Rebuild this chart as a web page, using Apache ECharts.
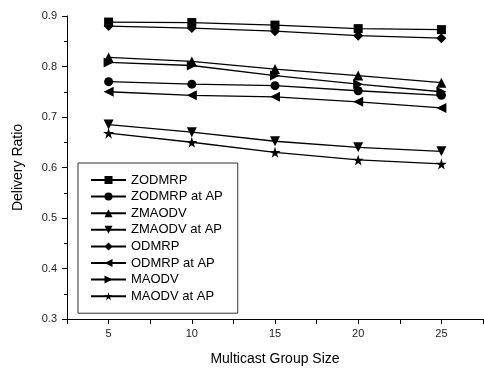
<!DOCTYPE html>
<html>
<head>
<meta charset="utf-8">
<script src="https://cdn.jsdelivr.net/npm/echarts@6/dist/echarts.min.js"></script>
<style>
  html, body { margin: 0; padding: 0; background: #fff; }
  #chart { width: 484px; height: 368px; }
</style>
</head>
<body>
<div id="chart"></div>
<script>
var groupSize = [5, 10, 15, 20, 25];
var seriesNames = ['ZODMRP', 'ZODMRP at AP', 'ZMAODV', 'ZMAODV at AP', 'ODMRP', 'ODMRP at AP', 'MAODV', 'MAODV at AP'];
var zodmrp     = [0.888, 0.887, 0.882, 0.875, 0.873];
var zodmrpAP   = [0.770, 0.765, 0.762, 0.752, 0.743];
var zmaodv     = [0.818, 0.810, 0.795, 0.782, 0.768];
var zmaodvAP   = [0.685, 0.670, 0.652, 0.640, 0.632];
var odmrp      = [0.880, 0.876, 0.870, 0.861, 0.856];
var odmrpAP    = [0.750, 0.743, 0.740, 0.730, 0.718];
var maodv      = [0.808, 0.802, 0.782, 0.765, 0.750];
var maodvAP    = [0.668, 0.650, 0.630, 0.615, 0.607];
var yTicks = [0.3, 0.4, 0.5, 0.6, 0.7, 0.8, 0.9];

var star = 'path://M50,0 L61,35 L98,35 L68,57 L79,91 L50,70 L21,91 L32,57 L2,35 L39,35 Z';
var values = [zodmrp, zodmrpAP, zmaodv, zmaodvAP, odmrp, odmrpAP, maodv, maodvAP];
var symbols = ['rect', 'circle', 'triangle', 'triangle', 'diamond', 'triangle', 'triangle', star];
var rotates = [0, 0, 0, 180, 0, 90, -90, 0];
var sizes = [9, 9, 10, 10, 10, 10, 10, 11];

var chart = echarts.init(document.getElementById('chart'));

var series = seriesNames.map(function (name, i) {
    return {
        name: name,
        type: 'line',
        data: groupSize.map(function (x, j) { return [x, values[i][j]]; }),
        symbol: symbols[i],
        symbolSize: sizes[i],
        symbolRotate: rotates[i],
        showAllSymbol: true,
        lineStyle: { color: '#000', width: 1.3 },
        itemStyle: { color: '#000' },
        emphasis: { disabled: true },
        animation: false
    };
});

var option = {
    backgroundColor: '#fff',
    grid: { left: 67, right: 1, top: 16, bottom: 49, outerBoundsMode: 'none', containLabel: false },
    legend: {
        orient: 'vertical',
        left: 78,
        top: 163,
        data: seriesNames,
        itemWidth: 35,
        itemHeight: 10,
        itemGap: 2.6,
        padding: [10, 15, 10, 12],
        borderColor: '#333',
        borderWidth: 1,
        textStyle: { fontFamily: 'Liberation Sans', fontSize: 13, color: '#000', lineHeight: 14 }
    },
    xAxis: {
        type: 'value',
        min: 2.5,
        max: 27.5,
        interval: 2.5,
        name: 'Multicast Group Size',
        nameLocation: 'middle',
        nameGap: 33,
        nameTextStyle: { fontFamily: 'Liberation Sans', fontSize: 14, color: '#000' },
        axisLine: { lineStyle: { color: '#000', width: 1 } },
        axisTick: { inside: false, length: 5, lineStyle: { color: '#000' } },
        axisLabel: {
            fontFamily: 'Liberation Sans', fontSize: 11, color: '#222', margin: 9,
            formatter: function (v) { return v % 5 === 0 ? String(v) : ''; }
        },
        splitLine: { show: false }
    },
    yAxis: {
        type: 'value',
        min: yTicks[0],
        max: yTicks[yTicks.length - 1],
        interval: 0.1,
        name: 'Delivery Ratio',
        nameLocation: 'middle',
        nameGap: 42,
        nameTextStyle: { fontFamily: 'Liberation Sans', fontSize: 14, color: '#000' },
        axisLine: { show: true, lineStyle: { color: '#000', width: 1 } },
        axisTick: { show: true, inside: false, length: 5, lineStyle: { color: '#000' } },
        minorTick: { show: true, splitNumber: 2, length: 3, lineStyle: { color: '#000' } },
        axisLabel: {
            fontFamily: 'Liberation Sans', fontSize: 11, color: '#222', margin: 10,
            formatter: function (v) { return v.toFixed(1); }
        },
        splitLine: { show: false }
    },
    series: series
};

option && chart.setOption(option);
</script>
</body>
</html>
